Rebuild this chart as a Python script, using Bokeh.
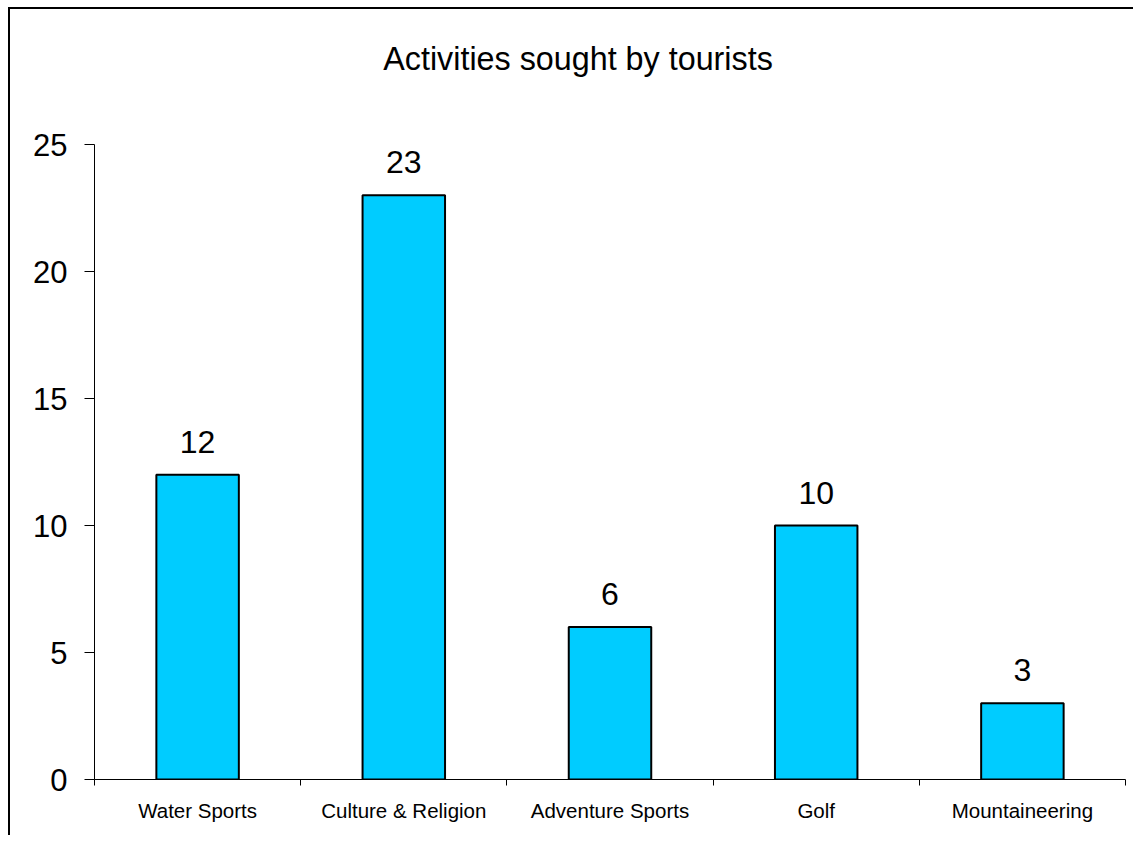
from bokeh.plotting import figure
from bokeh.models import FixedTicker, ColumnDataSource, Range1d, Label
from bokeh.embed import file_html
from bokeh.resources import INLINE

categories = ["Water Sports", "Culture & Religion", "Adventure Sports", "Golf", "Mountaineering"]
values = [12, 23, 6, 10, 3]
y_ticks = [0, 5, 10, 15, 20, 25]
title_text = "Activities sought by tourists"

n = len(categories)
y_max = y_ticks[-1]
# extra headroom above the axis (in data units) to host the title inside the frame
y_top = y_max * 770 / 635
centers = [i + 0.5 for i in range(n)]
src = ColumnDataSource(dict(x=centers, top=values, label=[str(v) for v in values]))

p = figure(width=1125, height=828, output_backend="svg", toolbar_location=None,
           x_range=Range1d(0, n), y_range=Range1d(0, y_top),
           min_border_left=84, min_border_right=10, min_border_top=0, min_border_bottom=58)
p.styles = {"border-left": "2px solid #000", "border-top": "2px solid #000",
            "margin-left": "8px", "margin-top": "7px"}
p.outline_line_color = None
p.xgrid.visible = False
p.ygrid.visible = False
p.background_fill_color = "white"
p.border_fill_color = "white"

p.vbar(x="x", top="top", width=0.4, bottom=0, source=src,
       fill_color="#00CCFF", line_color="black", line_width=2)

p.text(x="x", y="top", text="label", source=src, text_align="center",
       text_baseline="alphabetic", y_offset=-33, text_font_size="32px",
       text_font={"value": "Liberation Sans"}, text_color="black")

title = Label(x=n * 0.469, y=y_max + 3.35, text=title_text, text_align="center",
              text_baseline="alphabetic", text_font="Liberation Sans",
              text_font_size="32.3px", text_color="black")
p.add_layout(title)

# x axis: labels at centers, ticks at category boundaries
xa = p.xaxis[0]
xa.ticker = FixedTicker(ticks=centers, minor_ticks=list(range(n + 1)))
xa.major_label_overrides = {c: cat for c, cat in zip(centers, categories)}
xa.major_tick_out = 0
xa.major_tick_in = 0
xa.minor_tick_out = 6
xa.minor_tick_in = 0
xa.minor_tick_line_color = "black"
xa.axis_line_color = "black"
xa.major_label_text_font = "Liberation Sans"
xa.major_label_text_font_size = "20.5px"
xa.major_label_text_color = "black"
xa.major_label_standoff = 13

ya = p.yaxis[0]
ya.bounds = (0, y_max)
ya.ticker = FixedTicker(ticks=y_ticks, minor_ticks=[])
ya.major_tick_out = 10
ya.major_tick_in = 0
ya.major_tick_line_color = "black"
ya.axis_line_color = "black"
ya.major_label_text_font = "Liberation Sans"
ya.major_label_text_font_size = "31px"
ya.major_label_text_color = "black"
ya.major_label_standoff = 17

open("out.html", "w").write(file_html(p, INLINE))
